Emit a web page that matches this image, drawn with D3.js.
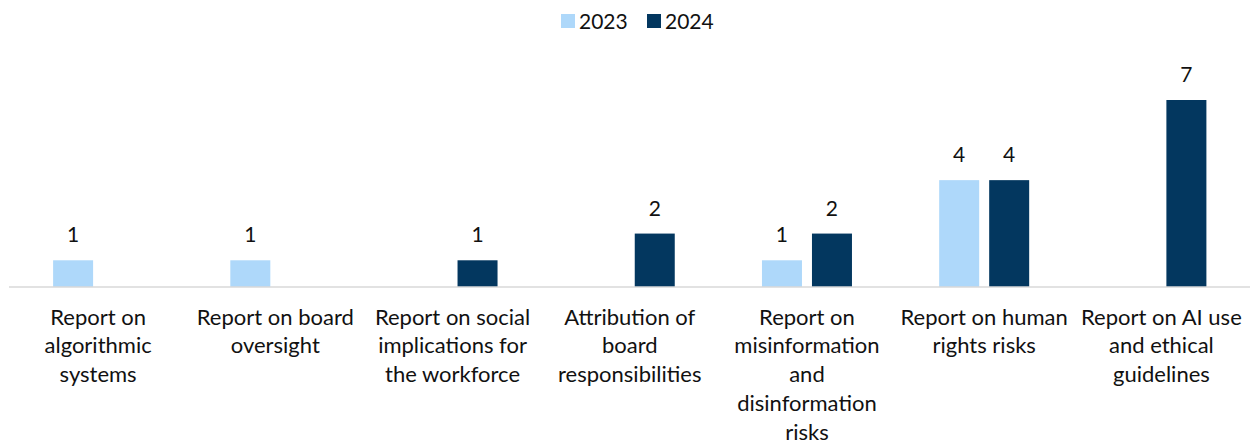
<!DOCTYPE html>
<html>
<head>
<meta charset="utf-8">
<script src="https://cdn.jsdelivr.net/npm/d3@7"></script>
<style>
  html, body { margin: 0; padding: 0; background: #fff; }
  svg { display: block; font-family: Lato, "Noto Sans", sans-serif; }
</style>
</head>
<body>
<svg id="chart" width="1252" height="445"></svg>
<script>
const categories = [
  "Report on algorithmic systems",
  "Report on board oversight",
  "Report on social implications for the workforce",
  "Attribution of board responsibilities",
  "Report on misinformation and disinformation risks",
  "Report on human rights risks",
  "Report on AI use and ethical guidelines"
];
const categoryLines = [
  ["Report on", "algorithmic", "systems"],
  ["Report on board", "oversight"],
  ["Report on social", "implications for", "the workforce"],
  ["Attribution of", "board", "responsibilities"],
  ["Report on", "misinformation", "and", "disinformation", "risks"],
  ["Report on human", "rights risks"],
  ["Report on AI use", "and ethical", "guidelines"]
];
const seriesNames = ["2023", "2024"];
const values2023 = [1, 1, null, null, 1, 4, null];
const values2024 = [null, null, 1, 2, 2, 4, 7];
const colors = ["#aed8fa", "#03375f"];

const svg = d3.select("#chart");
const baseY = 287;

const x = d3.scaleBand().domain(categories).range([9.5, 1250]).padding(0);
const xSub = d3.scaleBand().domain(seriesNames).range([-45, 45]).paddingInner(0.2);
const y = d3.scaleLinear().domain([0, 7]).range([baseY, 100]);
const color = d3.scaleOrdinal().domain(seriesNames).range(colors);

const rows = [];
categories.forEach((c, i) => {
  [values2023, values2024].forEach((arr, k) => {
    if (arr[i] != null) rows.push({cat: c, series: seriesNames[k], value: arr[i]});
  });
});

const cx = c => x(c) + x.bandwidth() / 2;

svg.append("g").selectAll("rect").data(rows).join("rect")
  .attr("x", d => cx(d.cat) + xSub(d.series))
  .attr("y", d => y(d.value))
  .attr("width", xSub.bandwidth())
  .attr("height", d => baseY - y(d.value))
  .attr("fill", d => color(d.series));

svg.append("g").selectAll("text").data(rows).join("text")
  .attr("x", d => cx(d.cat) + xSub(d.series) + xSub.bandwidth() / 2)
  .attr("y", d => y(d.value) - 18)
  .attr("text-anchor", "middle")
  .attr("font-size", 21)
  .attr("fill", "#111")
  .text(d => d.value);

// axis line
const xAxis = d3.axisBottom(x).tickSize(0).tickFormat("");
const ax = svg.append("g").attr("transform", `translate(0,${baseY})`).call(xAxis);
ax.select(".domain").attr("stroke", "#d9d9d9").attr("stroke-width", 1.5)
  .attr("d", `M9,0H1250`);

// category labels
const lab = svg.append("g");
categories.forEach((c, i) => {
  const t = lab.append("text")
    .attr("x", cx(c))
    .attr("y", 324.5)
    .attr("text-anchor", "middle")
    .attr("font-size", 22)
    .attr("fill", "#111");
  categoryLines[i].forEach((line, j) => {
    t.append("tspan").attr("x", cx(c)).attr("dy", j === 0 ? 0 : 28.8).text(line);
  });
});

// legend
const legendX = [561, 647];
const lg = svg.append("g");
seriesNames.forEach((s, i) => {
  lg.append("rect").attr("x", legendX[i]).attr("y", 14).attr("width", 14).attr("height", 14)
    .attr("fill", color(s));
  lg.append("text").attr("x", legendX[i] + 18).attr("y", 29)
    .attr("font-size", 21).attr("fill", "#111").text(s);
});
</script>
</body>
</html>
